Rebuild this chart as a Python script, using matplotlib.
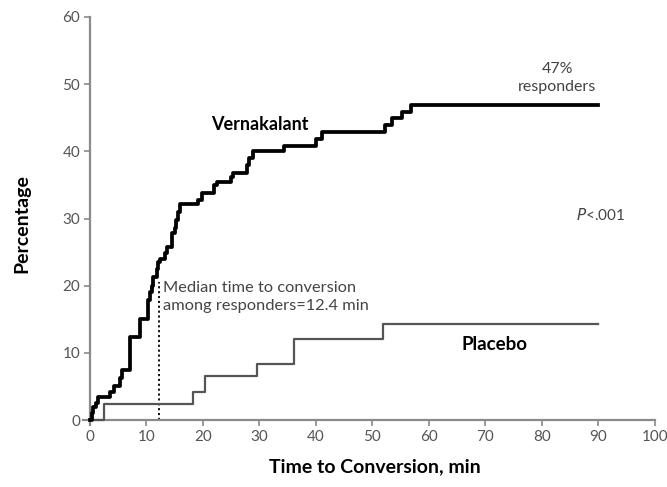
import matplotlib
matplotlib.use("Agg")
import matplotlib.pyplot as plt

# ---- data ----
verna_times = [0, 0.3, 0.6, 1.0, 1.5, 3.5, 4.2, 5.3, 5.6, 7.1, 8.8, 10.3, 10.6, 10.9,
               11.2, 11.8, 12.1, 12.4, 13.3, 13.6, 14.6, 15.0, 15.3, 15.6, 15.9, 19.2,
               19.8, 22.0, 22.4, 25.0, 25.4, 27.8, 28.2, 28.9, 34.3, 40.0, 41.0, 52.2,
               53.4, 55.2, 56.9, 90]
verna_pct = [0, 1.0, 2.0, 2.6, 3.5, 4.2, 5.0, 6.2, 7.4, 12.4, 15.1, 17.9, 19.0, 20.0,
             21.3, 22.5, 23.5, 24.0, 24.8, 25.8, 27.8, 28.6, 29.8, 31.0, 32.1, 32.8,
             33.8, 35.0, 35.5, 36.2, 36.8, 38.0, 39.0, 40.0, 40.8, 41.8, 42.9, 43.9,
             44.9, 45.9, 46.9, 46.9]
placebo_times = [0, 2.5, 18.2, 20.3, 29.6, 36.2, 51.8, 90]
placebo_pct = [0, 2.4, 4.2, 6.5, 8.3, 12.0, 14.3, 14.3]
median_time = 12.2
median_top = 20.6
x_ticks = list(range(0, 101, 10))
y_ticks = list(range(0, 61, 10))

plt.rcParams['font.family'] = ['Lato', 'DejaVu Sans']

fig = plt.figure(figsize=(6.67, 4.87), dpi=100)
ax = fig.add_axes([0.1247, 0.1265, 0.8573, 0.8386])
ax.set_xlim(-1.2, 100)
ax.set_ylim(-0.8, 60)

ax.step(placebo_times, placebo_pct, where='post', color='#555555', lw=1.6, zorder=3)
ax.step(verna_times, verna_pct, where='post', color='black', lw=2.7, zorder=4)
ax.plot([median_time, median_time], [0, median_top], color='black', lw=1.3,
        ls=(0, (1.2, 1.5)), zorder=2)

for s in ['top', 'right']:
    ax.spines[s].set_visible(False)
ax.spines['left'].set_position(('data', 0))
ax.spines['bottom'].set_position(('data', 0))
for s in ['left', 'bottom']:
    ax.spines[s].set_color('#8a8a8a')
    ax.spines[s].set_linewidth(1.6)
ax.set_xticks(x_ticks)
ax.set_yticks(y_ticks)
ax.tick_params(direction='out', length=4, width=1.2, color='#8a8a8a',
               labelsize=11, labelcolor='#555555', pad=3)

ax.text(30.1, 44.0, 'Vernakalant', fontsize=13, fontweight='bold', ha='center',
        va='center', color='black')
ax.text(71.6, 11.2, 'Placebo', fontsize=13.5, fontweight='bold', ha='center',
        va='center', color='black')
ax.text(82.7, 50.9, '47%\nresponders', fontsize=11.5, ha='center', va='center',
        color='#444444', linespacing=1.3)
ax.text(90.3, 30.5, r'$\it{P}$<.001', fontsize=11, ha='center', va='center',
        color='#444444')
ax.text(12.9, 18.3, 'Median time to conversion\namong responders=12.4 min', fontsize=11.8,
        ha='left', va='center', color='#444444', linespacing=1.3)

fig.text(22 / 667, 1 - 224 / 487, 'Percentage', rotation=90, fontsize=14,
         fontweight='bold', ha='center', va='center')
fig.text(375 / 667, 1 - 467 / 487, 'Time to Conversion, min', fontsize=14,
         fontweight='bold', ha='center', va='center')

fig.savefig('out.png', dpi=100)
